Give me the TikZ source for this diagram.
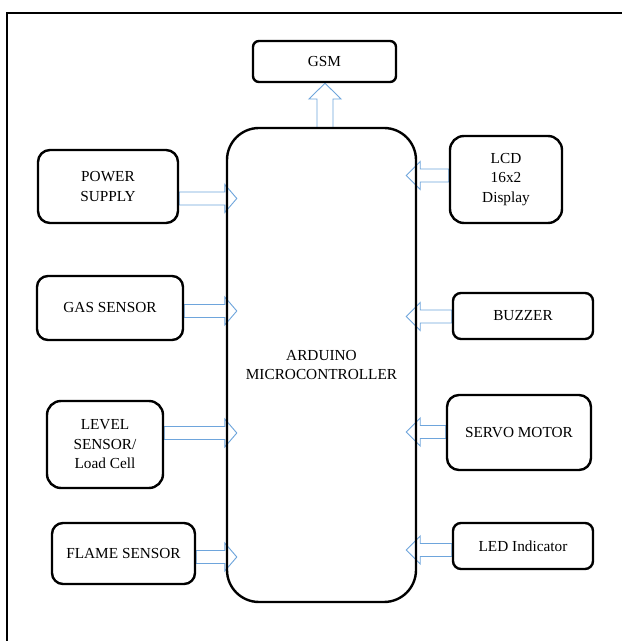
\documentclass[tikz,border=0pt]{standalone}
\usepackage{fontspec}
\setmainfont{Liberation Serif}
\usetikzlibrary{calc,backgrounds}
\definecolor{arrowblue}{RGB}{110,165,220}
\tikzset{
  box/.style={draw=black, line width=2.4pt, align=center, inner sep=2pt,
    font=\fontsize{15.3}{19.5}\selectfont},
  barrow/.style={draw=arrowblue, fill=white, line width=0.9pt, line join=miter},
}
\newcommand\arrR[3]{\draw[barrow] let \p1=(#1.east), \p2=(#2.west) in
  (\x1,#3pt+6.5pt) -- (\x2-1pt,#3pt+6.5pt) -- (\x2-1pt,#3pt+14pt) -- (\x2+11pt,#3pt)
  -- (\x2-1pt,#3pt-14pt) -- (\x2-1pt,#3pt-6.5pt) -- (\x1,#3pt-6.5pt) -- cycle;}
\newcommand\arrL[3]{\draw[barrow] let \p1=(#1.west), \p2=(#2.east) in
  (\x1,#3pt+6.5pt) -- (\x2+3pt,#3pt+6.5pt) -- (\x2+3pt,#3pt+14pt) -- (\x2-11pt,#3pt)
  -- (\x2+3pt,#3pt-14pt) -- (\x2+3pt,#3pt-6.5pt) -- (\x1,#3pt-6.5pt) -- cycle;}
\begin{document}
\begin{tikzpicture}[x=1pt,y=1pt]
\useasboundingbox (0,0) rectangle (622,641);
\clip (0,0) rectangle (622,641);
\begin{pgfonlayer}{background}
\fill[white] (0,0) rectangle (622,641);
\end{pgfonlayer}
\draw[line width=2.6pt] (7,-20) rectangle (660,628);

\node[box, rounded corners=6pt, minimum width=143pt, minimum height=41pt] (gsm) at (324.5,579.5) {GSM};
\node[box, rounded corners=32pt, minimum width=189pt, minimum height=474pt] (main) at (321.5,276) {ARDUINO\\MICROCONTROLLER};
\node[box, rounded corners=12pt, minimum width=140pt, minimum height=73pt] (ps) at (108,454.5) {POWER\\SUPPLY};
\node[box, rounded corners=11pt, minimum width=146pt, minimum height=64pt] (gas) at (110,333) {GAS SENSOR};
\node[box, rounded corners=14pt, minimum width=116pt, minimum height=87pt] (level) at (105,196.5) {LEVEL\\SENSOR/\\Load Cell};
\node[box, rounded corners=11pt, minimum width=143pt, minimum height=61pt] (flame) at (123.5,87.5) {FLAME SENSOR};
\node[box, rounded corners=14pt, minimum width=112pt, minimum height=87pt] (lcd) at (506,461.5) {LCD\\16x2\\Display};
\node[box, rounded corners=8pt, minimum width=140pt, minimum height=46pt] (buzzer) at (523,325) {BUZZER};
\node[box, rounded corners=12pt, minimum width=144pt, minimum height=75pt] (servo) at (519,208.5) {SERVO MOTOR};
\node[box, rounded corners=8pt, minimum width=140pt, minimum height=46pt] (led) at (523,95) {LED Indicator};

\begin{pgfonlayer}{background}
\draw[barrow] let \p1=(main.north), \p2=(gsm.south) in
  (317,\y1-1pt) -- (317,542) -- (309,542) -- (325pt,\y2) -- (341,542) -- (333,542) -- (333,\y1-1pt) -- cycle;
\arrR{ps}{main}{442.5}
\arrR{gas}{main}{330}
\arrR{level}{main}{208}
\arrR{flame}{main}{84}
\arrL{lcd}{main}{465.5}
\arrL{buzzer}{main}{324.5}
\arrL{servo}{main}{209}
\arrL{led}{main}{91}
\end{pgfonlayer}
\end{tikzpicture}
\end{document}
